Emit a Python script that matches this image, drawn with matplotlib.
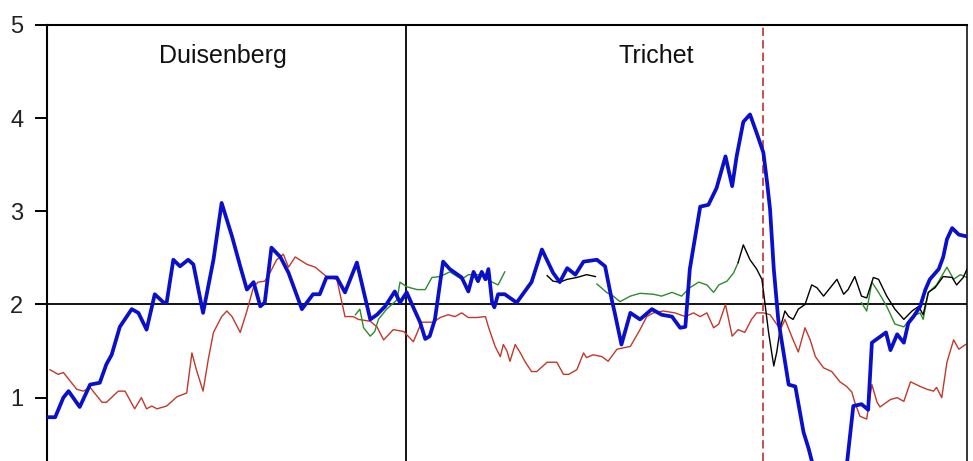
import numpy as np
import matplotlib
matplotlib.use("Agg")
import matplotlib.pyplot as plt

nan = np.nan

# headline inflation (thick blue)
blue_t = [1999.00, 1999.11, 1999.22, 1999.29, 1999.44, 1999.58, 1999.71, 1999.80, 1999.87, 1999.98,
          2000.14, 2000.23, 2000.34, 2000.45, 2000.57, 2000.61, 2000.70, 2000.79, 2000.90, 2000.97,
          2001.10, 2001.24, 2001.35, 2001.49, 2001.60, 2001.69, 2001.78, 2001.87, 2001.93, 2002.02,
          2002.14, 2002.25, 2002.43, 2002.58, 2002.67, 2002.76, 2002.90, 2003.01, 2003.17, 2003.35,
          2003.44, 2003.55, 2003.68, 2003.75, 2003.84, 2003.94, 2004.02, 2004.09, 2004.15, 2004.22,
          2004.33, 2004.42, 2004.58, 2004.67, 2004.74, 2004.80, 2004.85, 2004.90, 2004.94, 2004.99,
          2005.02, 2005.07, 2005.16, 2005.32, 2005.52, 2005.66, 2005.81, 2005.90, 2006.00, 2006.11,
          2006.22, 2006.40, 2006.51, 2006.60, 2006.64, 2006.73, 2006.85, 2006.98, 2007.14, 2007.27,
          2007.41, 2007.52, 2007.59, 2007.65, 2007.79, 2007.90, 2008.01, 2008.13, 2008.22, 2008.28,
          2008.37, 2008.46, 2008.55, 2008.64, 2008.69, 2008.73, 2008.78, 2008.84, 2008.91, 2008.98,
          2009.07, 2009.18, 2009.25, 2009.33, 2009.40, 2009.50, 2009.58, 2009.63, 2009.71, 2009.85,
          2009.96, 2010.05, 2010.10, 2010.17, 2010.29, 2010.35, 2010.44, 2010.53, 2010.59, 2010.66,
          2010.75, 2010.82, 2010.88, 2011.00, 2011.06, 2011.11, 2011.18, 2011.27, 2011.38]
blue_v = [0.79, 0.79, 1.00, 1.07, 0.90, 1.14, 1.16, 1.36, 1.46, 1.76,
          1.95, 1.91, 1.73, 2.11, 2.02, 2.02, 2.48, 2.41, 2.48, 2.43,
          1.91, 2.48, 3.09, 2.73, 2.41, 2.16, 2.24, 1.98, 2.02, 2.61,
          2.51, 2.34, 1.95, 2.11, 2.11, 2.29, 2.29, 2.13, 2.45, 1.84,
          1.89, 1.98, 2.14, 2.02, 2.13, 1.95, 1.81, 1.63, 1.66, 1.84,
          2.46, 2.38, 2.29, 2.14, 2.35, 2.25, 2.35, 2.27, 2.38, 2.02,
          1.97, 2.11, 2.11, 2.02, 2.24, 2.59, 2.34, 2.24, 2.39, 2.32,
          2.46, 2.48, 2.41, 2.05, 1.91, 1.57, 1.91, 1.84, 1.95, 1.89,
          1.87, 1.75, 1.76, 2.38, 3.05, 3.07, 3.25, 3.59, 3.27, 3.59,
          3.96, 4.04, 3.84, 3.63, 3.31, 3.02, 2.38, 1.84, 1.49, 1.14,
          1.12, 0.63, 0.45, 0.20, -0.10, -0.60, -0.20, -0.30, -0.10, 0.91,
          0.93, 0.87, 1.59, 1.63, 1.70, 1.51, 1.68, 1.59, 1.80, 1.87,
          1.98, 2.16, 2.27, 2.38, 2.51, 2.70, 2.82, 2.75, 2.73]

# core inflation (thin red)
red_t = [1999.04, 1999.15, 1999.22, 1999.40, 1999.49, 1999.58, 1999.74, 1999.80, 1999.96, 2000.05,
         2000.18, 2000.27, 2000.34, 2000.41, 2000.48, 2000.61, 2000.75, 2000.88, 2000.95, 2001.01,
         2001.10, 2001.17, 2001.24, 2001.35, 2001.42, 2001.49, 2001.60, 2001.69, 2001.78, 2001.84,
         2001.93, 2002.00, 2002.09, 2002.18, 2002.25, 2002.34, 2002.50, 2002.61, 2002.76, 2002.90,
         2003.01, 2003.12, 2003.19, 2003.35, 2003.44, 2003.53, 2003.66, 2003.80, 2003.93, 2004.04,
         2004.20, 2004.29, 2004.40, 2004.49, 2004.58, 2004.67, 2004.78, 2004.90, 2004.94, 2005.03,
         2005.10, 2005.14, 2005.19, 2005.23, 2005.30, 2005.37, 2005.43, 2005.52, 2005.59, 2005.73,
         2005.86, 2005.95, 2006.02, 2006.13, 2006.22, 2006.26, 2006.35, 2006.47, 2006.55, 2006.67,
         2006.85, 2006.98, 2007.07, 2007.16, 2007.29, 2007.45, 2007.59, 2007.70, 2007.79, 2007.88,
         2007.97, 2008.04, 2008.13, 2008.22, 2008.30, 2008.39, 2008.48, 2008.55, 2008.64, 2008.73,
         2008.87, 2008.93, 2009.00, 2009.04, 2009.11, 2009.20, 2009.27, 2009.34, 2009.45, 2009.56,
         2009.67, 2009.76, 2009.83, 2009.87, 2009.94, 2010.03, 2010.10, 2010.17, 2010.21, 2010.35,
         2010.44, 2010.53, 2010.62, 2010.75, 2010.84, 2010.93, 2010.97, 2011.04, 2011.11, 2011.20,
         2011.27, 2011.36]
red_v = [1.30, 1.25, 1.27, 1.09, 1.07, 1.11, 0.95, 0.95, 1.07, 1.07,
         0.88, 1.00, 0.88, 0.91, 0.88, 0.91, 1.01, 1.05, 1.48, 1.30,
         1.07, 1.41, 1.70, 1.87, 1.93, 1.87, 1.70, 1.93, 2.19, 2.24,
         2.25, 2.34, 2.48, 2.54, 2.40, 2.51, 2.43, 2.40, 2.30, 2.27,
         1.87, 1.87, 1.84, 1.82, 1.76, 1.62, 1.73, 1.71, 1.60, 1.81,
         1.81, 1.86, 1.89, 1.87, 1.91, 1.86, 1.86, 1.87, 1.76, 1.55,
         1.44, 1.57, 1.50, 1.39, 1.57, 1.48, 1.39, 1.28, 1.28, 1.38,
         1.38, 1.25, 1.25, 1.30, 1.48, 1.43, 1.46, 1.44, 1.39, 1.52,
         1.55, 1.73, 1.87, 1.91, 1.93, 1.91, 1.87, 1.91, 1.87, 1.91,
         1.75, 1.79, 2.00, 1.66, 1.73, 1.70, 1.84, 1.91, 1.91, 1.89,
         1.73, 1.84, 1.70, 1.62, 1.49, 1.75, 1.62, 1.44, 1.32, 1.28,
         1.17, 1.12, 1.06, 0.95, 0.80, 0.77, 1.14, 0.95, 0.90, 0.98,
         1.00, 0.96, 1.17, 1.12, 1.09, 1.07, 1.11, 1.00, 1.38, 1.62,
         1.52, 1.57]

# expectations, thin green (gaps where missing)
green_t = [2003.15, 2003.21, 2003.26, 2003.35, 2003.41, 2003.46, 2003.57, 2003.71, 2003.75, 2003.84,
           2003.98, 2004.09, 2004.18, 2004.29, 2004.42, 2004.58, 2004.67, 2004.80, 2004.92, 2004.99,
           2005.07, 2005.16, nan,
           2006.40, 2006.53, 2006.62, 2006.71, 2006.85, 2006.98, 2007.16, 2007.27, 2007.41, 2007.54,
           2007.65, 2007.77, 2007.88, 2007.97, 2008.04, 2008.15, 2008.24, 2008.30, nan,
           2009.96, 2010.03, 2010.10, 2010.19, 2010.30, 2010.41, 2010.53, 2010.64, 2010.75, 2010.79,
           2010.86, 2010.97, 2011.11, 2011.20, 2011.29, 2011.38]
green_v = [1.89, 1.95, 1.75, 1.66, 1.71, 1.84, 1.95, 2.05, 2.24, 2.19,
           2.16, 2.16, 2.29, 2.30, 2.35, 2.27, 2.32, 2.32, 2.28, 2.24,
           2.21, 2.35, nan,
           2.22, 2.13, 2.09, 2.03, 2.09, 2.12, 2.11, 2.09, 2.13, 2.09,
           2.18, 2.24, 2.21, 2.13, 2.21, 2.25, 2.34, 2.45, nan,
           2.02, 1.93, 2.24, 2.13, 1.98, 1.79, 1.76, 1.87, 1.91, 1.84,
           2.13, 2.21, 2.40, 2.27, 2.32, 2.29]

# expectations, thin black
black_t = [2005.73, 2005.81, 2005.90, 2006.00, 2006.13, 2006.26, 2006.38, nan,
           2008.30, 2008.37, 2008.46, 2008.55, 2008.62, 2008.66, 2008.71, 2008.78, 2008.82, 2008.87,
           2008.93, 2008.98, 2009.04, 2009.11, 2009.20, 2009.29, 2009.36, 2009.45, 2009.54, 2009.63,
           2009.72, 2009.78, 2009.87, 2009.96, 2010.03, 2010.12, 2010.19, 2010.30, 2010.41, 2010.53,
           2010.64, 2010.73, 2010.79, 2010.86, 2010.95, 2011.06, 2011.18, 2011.24, 2011.33, 2011.38]
black_v = [2.31, 2.25, 2.24, 2.27, 2.29, 2.32, 2.30, nan,
           2.45, 2.64, 2.48, 2.38, 2.27, 2.02, 1.70, 1.34, 1.49, 1.76,
           1.93, 1.87, 1.84, 1.95, 2.00, 2.21, 2.18, 2.09, 2.18, 2.27,
           2.11, 2.16, 2.30, 2.09, 2.07, 2.29, 2.27, 2.09, 1.95, 1.84,
           1.93, 1.98, 1.89, 2.13, 2.18, 2.30, 2.29, 2.21, 2.29, 2.38]

t_start, t_end = 1999.0, 2011.38
trichet_start = 2003.83
crisis = 2008.63
periods = ["Duisenberg", "Trichet"]
period_label_t = [2001.37, 2007.20]

fig = plt.figure(figsize=(9.73, 4.61), dpi=100)
ax = fig.add_axes([47 / 973, 0.0, 920 / 973, 436 / 461])

ax.axhline(2, color="black", lw=1.3, zorder=1)
ax.axvline(trichet_start, color="black", lw=1.3, zorder=1)
ax.axvline(crisis, color="#c03030", lw=1.2, ls=(0, (5, 2.5)), zorder=1)

ax.plot(red_t, red_v, color="#c0392b", lw=1.0, zorder=2)
ax.plot(green_t, green_v, color="#2e8b2e", lw=1.0, zorder=2)
ax.plot(black_t, black_v, color="black", lw=1.0, zorder=2)
ax.plot(blue_t, blue_v, color="#0a0fcc", lw=2.7, zorder=3)

for name, tx in zip(periods, period_label_t):
    ax.text(tx, 4.59, name, ha="center", va="baseline", fontsize=18,
            family="Liberation Sans", color="#111111")

ax.set_xlim(t_start, t_end)
ax.set_ylim(0.32, 5)
ax.set_yticks([1, 2, 3, 4, 5])
ax.set_xticks([])
ax.tick_params(axis="y", direction="out", length=9, width=1.4, pad=8,
               labelsize=17, labelcolor="#222222")
for lab in ax.get_yticklabels():
    lab.set_family("Liberation Sans")

ax.spines["bottom"].set_visible(False)
ax.spines["top"].set_linewidth(1.5)
ax.spines["left"].set_linewidth(1.5)
ax.spines["right"].set_linewidth(1.1)

fig.savefig("out.png", dpi=100)
